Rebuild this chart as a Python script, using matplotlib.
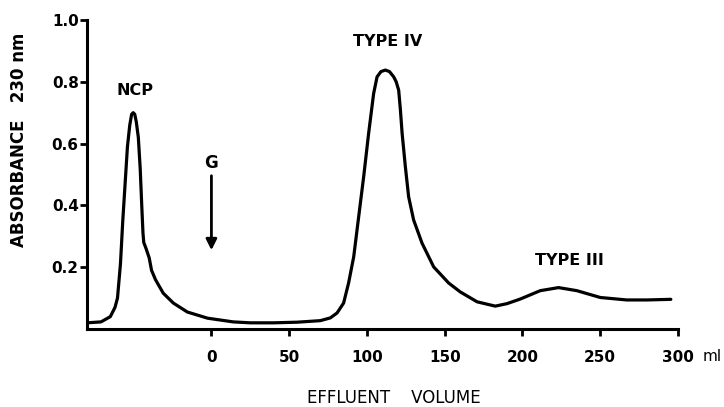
import matplotlib.pyplot as plt

# effluent volume (ml) and absorbance at 230 nm
volume = [-80, -71, -65, -62, -60.4, -58.5, -57, -55.5, -54, -52.5, -51.3, -50.3,
          -49.3, -48.3, -47, -45.8, -44.8, -44, -43.5, -42, -40, -38.5, -36, -31,
          -24.5, -15.5, -2.5, 14, 25, 40, 55, 70, 76.5, 80.8, 85, 88.2, 91.5, 94.7,
          97.9, 101.1, 104.3, 106.5, 109, 111.8, 114.5, 117.2, 118.8, 120.4, 121.5,
          122.6, 124.7, 126.8, 130, 135.4, 142.9, 152.5, 160, 170.8, 182.5, 190,
          198.6, 211.4, 223.2, 235, 250, 267, 280, 295.4]
absorbance = [0.02, 0.023, 0.04, 0.07, 0.10, 0.21, 0.35, 0.47, 0.59, 0.66, 0.695, 0.70,
              0.695, 0.67, 0.62, 0.52, 0.40, 0.31, 0.28, 0.26, 0.23, 0.19, 0.16, 0.116,
              0.084, 0.055, 0.035, 0.023, 0.02, 0.02, 0.022, 0.027, 0.036, 0.052, 0.084,
              0.149, 0.234, 0.364, 0.493, 0.634, 0.762, 0.816, 0.833, 0.838, 0.833, 0.816,
              0.80, 0.773, 0.71, 0.634, 0.525, 0.428, 0.353, 0.278, 0.201, 0.149, 0.12,
              0.088, 0.074, 0.082, 0.097, 0.124, 0.134, 0.124, 0.102, 0.094, 0.094, 0.096]

x_ticks = [0, 50, 100, 150, 200, 250, 300]
y_ticks = [0.2, 0.4, 0.6, 0.8, 1.0]
y_ticklabels = ['0.2', '0.4', '0.6', '0.8', '1.0']

peak_names = ['NCP', 'TYPE IV', 'TYPE III']
peak_label_x = [-49, 113, 230]
peak_label_y = [0.773, 0.93, 0.223]

plt.rcParams['font.family'] = ['DejaVu Sans']

fig = plt.figure(figsize=(7.24, 4.07), dpi=100)
ax = fig.add_axes([87/724, 1 - 329/407, (678 - 87)/724, (329 - 20)/407])

ax.plot(volume, absorbance, color='black', lw=2.3, solid_joinstyle='round', solid_capstyle='round')

ax.set_xlim(-80, 300)
ax.set_ylim(0, 1.0)
ax.spines['top'].set_visible(False)
ax.spines['right'].set_visible(False)
ax.spines['left'].set_linewidth(2.2)
ax.spines['bottom'].set_linewidth(2.2)

ax.set_xticks(x_ticks)
ax.set_xticklabels([str(v) for v in x_ticks], fontsize=11, fontweight='bold')
ax.set_yticks(y_ticks)
ax.set_yticklabels(y_ticklabels, fontsize=11, fontweight='bold')
ax.tick_params(axis='x', length=5, width=2, pad=10)
ax.tick_params(axis='y', length=5, width=2, pad=1)

ax.text(322, -0.09, 'ml', fontsize=11, ha='center', va='center')

for name, px, py in zip(peak_names, peak_label_x, peak_label_y):
    ax.text(px, py, name, fontsize=11.5, fontweight='bold', ha='center', va='center')

# sample application marker
ax.annotate('', xy=(0, 0.246), xytext=(0, 0.505),
            arrowprops=dict(arrowstyle='-|>', color='black', lw=2, mutation_scale=16))
ax.text(0, 0.537, 'G', fontsize=12, fontweight='bold', ha='center', va='center')

fig.text(19/724, 1 - 140/407, 'ABSORBANCE   230 nm', rotation=90, fontsize=12,
         fontweight='bold', ha='center', va='center')
fig.text(394/724, 1 - 398/407, 'EFFLUENT    VOLUME', fontsize=12,
         ha='center', va='center')

fig.savefig('out.png', dpi=100)
